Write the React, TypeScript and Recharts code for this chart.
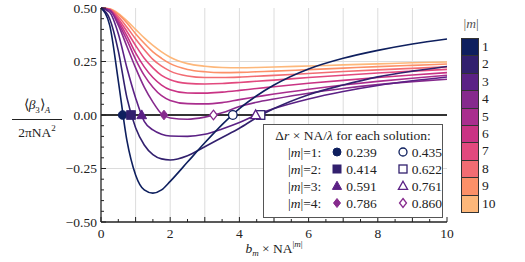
import { ComposedChart, Line, Scatter, XAxis, YAxis, ReferenceLine } from "recharts";

const xs = [0, 0.25, 0.5, 0.75, 1, 1.25, 1.5, 1.75, 2, 2.5, 3, 3.5, 4, 4.5, 5, 6, 7, 8, 9, 10];

const m1 = [0.5, 0.42, 0.16, -0.12, -0.28, -0.35, -0.365, -0.35, -0.31, -0.22, -0.13, -0.045, 0.03, 0.09, 0.14, 0.215, 0.265, 0.302, 0.332, 0.355];
const m2 = [0.5, 0.45, 0.3, 0.08, -0.06, -0.14, -0.185, -0.205, -0.21, -0.19, -0.148, -0.105, -0.062, -0.012, 0.03, 0.095, 0.14, 0.178, 0.205, 0.227];
const m3 = [0.5, 0.48, 0.38, 0.22, 0.08, -0.03, -0.07, -0.09, -0.098, -0.1, -0.09, -0.065, -0.035, 0.001, 0.03, 0.075, 0.11, 0.138, 0.16, 0.178];
const m4 = [0.5, 0.49, 0.42, 0.32, 0.22, 0.13, 0.06, 0.005, -0.014, -0.02, -0.01, 0.01, 0.04, 0.06, 0.075, 0.102, 0.124, 0.142, 0.156, 0.167];
const m5 = [0.5, 0.49, 0.43, 0.35, 0.26, 0.185, 0.13, 0.09, 0.068, 0.053, 0.052, 0.058, 0.072, 0.085, 0.098, 0.12, 0.14, 0.157, 0.172, 0.186];
const m6 = [0.5, 0.49, 0.44, 0.37, 0.29, 0.225, 0.175, 0.14, 0.118, 0.103, 0.102, 0.107, 0.115, 0.124, 0.132, 0.148, 0.162, 0.175, 0.187, 0.198];
const m7 = [0.5, 0.492, 0.45, 0.39, 0.325, 0.265, 0.22, 0.185, 0.165, 0.148, 0.145, 0.147, 0.152, 0.158, 0.163, 0.175, 0.186, 0.196, 0.205, 0.213];
const m8 = [0.5, 0.494, 0.46, 0.41, 0.355, 0.305, 0.26, 0.228, 0.205, 0.182, 0.175, 0.175, 0.177, 0.181, 0.185, 0.194, 0.203, 0.211, 0.218, 0.225];
const m9 = [0.5, 0.495, 0.47, 0.43, 0.38, 0.335, 0.295, 0.265, 0.24, 0.213, 0.202, 0.198, 0.199, 0.202, 0.205, 0.212, 0.219, 0.226, 0.232, 0.238];
const m10 = [0.5, 0.496, 0.475, 0.44, 0.4, 0.36, 0.325, 0.295, 0.27, 0.24, 0.228, 0.222, 0.221, 0.222, 0.224, 0.229, 0.234, 0.239, 0.244, 0.248];

const series = [m1, m2, m3, m4, m5, m6, m7, m8, m9, m10];
const colors = ["#0e1f5e", "#32206e", "#5b2185", "#862a8d", "#a92d8e", "#c93384", "#e2497e", "#f26c73", "#fc9068", "#fdb77a"];

// zero crossings (b_m × NA^|m|) per |m|, first and second solution
const firstRoots = [0.625, 0.867, 1.176, 1.82];
const secondRoots = [3.81, 4.61, 4.47, 3.25];
const deltaFirst = ["0.239", "0.414", "0.591", "0.786"];
const deltaSecond = ["0.435", "0.622", "0.761", "0.860"];
const shapes = ["circle", "square", "triangle", "diamond"];

const xTicks = [0, 0.5, 1, 1.5, 2, 2.5, 3, 3.5, 4, 4.5, 5, 5.5, 6, 6.5, 7, 7.5, 8, 8.5, 9, 9.5, 10];
const xLabels = [0, 2, 4, 6, 8, 10];
const yTicks = [-0.5, -0.45, -0.4, -0.35, -0.3, -0.25, -0.2, -0.15, -0.1, -0.05, 0, 0.05, 0.1, 0.15, 0.2, 0.25, 0.3, 0.35, 0.4, 0.45, 0.5];
const yLabels = [-0.5, -0.25, 0, 0.25, 0.5];
const gridX = [1, 2, 3, 4, 5, 6, 7, 8, 9];
const gridY = [-0.25, 0.25];

const rows = xs.map((x, i) => {
  const r: any = { x };
  series.forEach((s, k) => (r["m" + (k + 1)] = s[i]));
  return r;
});

const serif = "Liberation Serif, Times New Roman, serif";
const ink = "#222";

const fmtY = (v: number) => (v < 0 ? "\u2212" : "") + Math.abs(v).toFixed(2);
const isInt = (v: number) => Math.abs(v - Math.round(v)) < 1e-9;
const isQuarter = (v: number) => Math.abs(v * 4 - Math.round(v * 4)) < 1e-9;

const BottomTick = (p: any) => {
  const v = p.payload.value;
  const len = isInt(v) ? 5 : 3;
  return (
    <g>
      <line x1={p.x} x2={p.x} y1={p.y} y2={p.y - len} stroke={ink} />
      {xLabels.includes(v) && (
        <text x={p.x} y={p.y + 16} textAnchor="middle" fontFamily={serif} fontSize={13.5} fill={ink}>
          {v}
        </text>
      )}
    </g>
  );
};
const TopTick = (p: any) => {
  const v = p.payload.value;
  const len = isInt(v) ? 5 : 3;
  return <line x1={p.x} x2={p.x} y1={p.y} y2={p.y + len} stroke={ink} />;
};
const LeftTick = (p: any) => {
  const v = p.payload.value;
  const len = isQuarter(v) ? 5 : 3;
  return (
    <g>
      <line x1={p.x} x2={p.x + len} y1={p.y} y2={p.y} stroke={ink} />
      {yLabels.includes(v) && (
        <text x={p.x - 4} y={p.y + 4.5} textAnchor="end" fontFamily={serif} fontSize={13.5} fill={ink}>
          {fmtY(v)}
        </text>
      )}
    </g>
  );
};
const RightTick = (p: any) => {
  const v = p.payload.value;
  const len = isQuarter(v) ? 5 : 3;
  return <line x1={p.x} x2={p.x - len} y1={p.y} y2={p.y} stroke={ink} />;
};

const Marker = ({ cx, cy, kind, color, open, s = 4.3 }: any) => {
  const fill = open ? "#fff" : color;
  const sw = open ? 1.3 : 1;
  if (kind === "circle") return <circle cx={cx} cy={cy} r={s} fill={fill} stroke={color} strokeWidth={sw} />;
  if (kind === "square") return <rect x={cx - s} y={cy - s} width={2 * s} height={2 * s} fill={fill} stroke={color} strokeWidth={sw} />;
  if (kind === "triangle")
    return <polygon points={`${cx},${cy - s - 0.8} ${cx + s + 0.6},${cy + s - 0.6} ${cx - s - 0.6},${cy + s - 0.6}`} fill={fill} stroke={color} strokeWidth={sw} />;
  return <polygon points={`${cx},${cy - s - 0.5} ${cx + s - 0.5},${cy} ${cx},${cy + s + 0.5} ${cx - s + 0.5},${cy}`} fill={fill} stroke={color} strokeWidth={sw} />;
};

const LegendMark = (props: any) => (
  <svg width={12} height={12} style={{ verticalAlign: "-1px", marginRight: 3 }}>
    <Marker cx={6} cy={6} s={4} {...props} />
  </svg>
);

const I = ({ children }: any) => <i>{children}</i>;

export default function App() {
  return (
    <div style={{ position: "absolute", left: 0, top: 0, width: 525, height: 262, background: "#fff", fontFamily: serif, color: ink }}>
      <ComposedChart width={525} height={262} data={rows} margin={{ top: 8, right: 78, bottom: 0, left: 0 }}>
        {gridX.map((g) => (
          <ReferenceLine key={"gx" + g} x={g} stroke="#dcdcdc" strokeWidth={1} />
        ))}
        {gridY.map((g) => (
          <ReferenceLine key={"gy" + g} y={g} stroke="#dcdcdc" strokeWidth={1} />
        ))}
        <ReferenceLine y={0} stroke="#333" strokeWidth={2} />
        <XAxis dataKey="x" type="number" domain={[0, 10]} ticks={xTicks} interval={0} height={40} tickSize={0} tickMargin={0} tickLine={false} tick={<BottomTick />} axisLine={{ stroke: ink, strokeWidth: 1.3 }} />
        <XAxis xAxisId="top" orientation="top" dataKey="x" type="number" domain={[0, 10]} ticks={xTicks} interval={0} height={0} tickSize={0} tickMargin={0} tickLine={false} tick={<TopTick />} axisLine={{ stroke: ink, strokeWidth: 1.3 }} />
        <YAxis type="number" domain={[-0.5, 0.5]} ticks={yTicks} interval={0} width={101} tickSize={0} tickMargin={0} tickLine={false} tick={<LeftTick />} axisLine={{ stroke: ink, strokeWidth: 1.3 }} />
        <YAxis yAxisId="right" orientation="right" type="number" domain={[-0.5, 0.5]} ticks={yTicks} interval={0} width={0} tickSize={0} tickMargin={0} tickLine={false} tick={<RightTick />} axisLine={{ stroke: ink, strokeWidth: 1.3 }} />
        {series
          .map((_, k) => (
            <Line key={"m" + (k + 1)} type="monotone" dataKey={"m" + (k + 1)} stroke={colors[k]} strokeWidth={1.6} dot={false} isAnimationActive={false} />
          ))
          .reverse()}
        {shapes.map((kind, k) => (
          <Scatter
            key={"f" + kind}
            data={[{ x: firstRoots[k], y: 0 }]}
            dataKey="y"
            isAnimationActive={false}
            shape={(p: any) => <Marker cx={p.cx} cy={p.cy} kind={kind} color={colors[k]} />}
          />
        ))}
        {shapes.map((kind, k) => (
          <Scatter
            key={"o" + kind}
            data={[{ x: secondRoots[k], y: 0 }]}
            dataKey="y"
            isAnimationActive={false}
            shape={(p: any) => <Marker cx={p.cx} cy={p.cy} kind={kind} color={colors[k]} open />}
          />
        ))}
      </ComposedChart>

      {/* y axis label */}
      <div style={{ position: "absolute", left: 12, top: 97, width: 50, textAlign: "center", fontSize: 13.5, lineHeight: "15px" }}>
        <div style={{ borderBottom: "1px solid #222", paddingBottom: 1 }}>
          ⟨<I>β</I>
          <sub style={{ fontSize: 9 }}>3</sub>⟩<sub style={{ fontSize: 9 }}><I>A</I></sub>
        </div>
        <div style={{ paddingTop: 1 }}>
          2πNA<sup style={{ fontSize: 9 }}>2</sup>
        </div>
      </div>

      {/* x axis label */}
      <div style={{ position: "absolute", left: 101, width: 346, top: 239, textAlign: "center", fontSize: 13.5 }}>
        <I>b</I>
        <sub style={{ fontSize: 9 }}><I>m</I></sub> × NA<sup style={{ fontSize: 9 }}>|<I>m</I>|</sup>
      </div>

      {/* solution legend */}
      <div style={{ position: "absolute", left: 263, top: 124, width: 180, height: 94, border: "1px solid #555", background: "#fff", fontSize: 13.5, lineHeight: "17px", padding: "2px 0 0 0", boxSizing: "border-box" }}>
        <div style={{ textAlign: "center" }}>
          Δ<I>r</I> × NA/<I>λ</I> for each solution:
        </div>
        {shapes.map((kind, k) => (
          <div key={kind} style={{ display: "flex", whiteSpace: "nowrap" }}>
            <span style={{ width: 58, textAlign: "right" }}>
              |<I>m</I>|={k + 1}:
            </span>
            <span style={{ width: 62, paddingLeft: 10 }}>
              <LegendMark kind={kind} color={colors[k]} />
              {deltaFirst[k]}
            </span>
            <span style={{ paddingLeft: 4 }}>
              <LegendMark kind={kind} color={colors[k]} open />
              {deltaSecond[k]}
            </span>
          </div>
        ))}
      </div>

      {/* colour bar */}
      <div style={{ position: "absolute", left: 461, top: 16, width: 20, textAlign: "center", fontSize: 13.5, color: "#555" }}>
        |<I>m</I>|
      </div>
      <div style={{ position: "absolute", left: 461, top: 38, border: "1px solid #333" }}>
        {colors.map((c, k) => (
          <div key={c} style={{ width: 16, height: 16.4, background: c, borderTop: k ? "1px solid #333" : "none" }} />
        ))}
      </div>
      {colors.map((c, k) => (
        <div key={"l" + c} style={{ position: "absolute", left: 482, top: 38 + k * 17.4, height: 17.4, lineHeight: "17.4px", fontSize: 13.5 }}>
          {k + 1}
        </div>
      ))}
    </div>
  );
}
